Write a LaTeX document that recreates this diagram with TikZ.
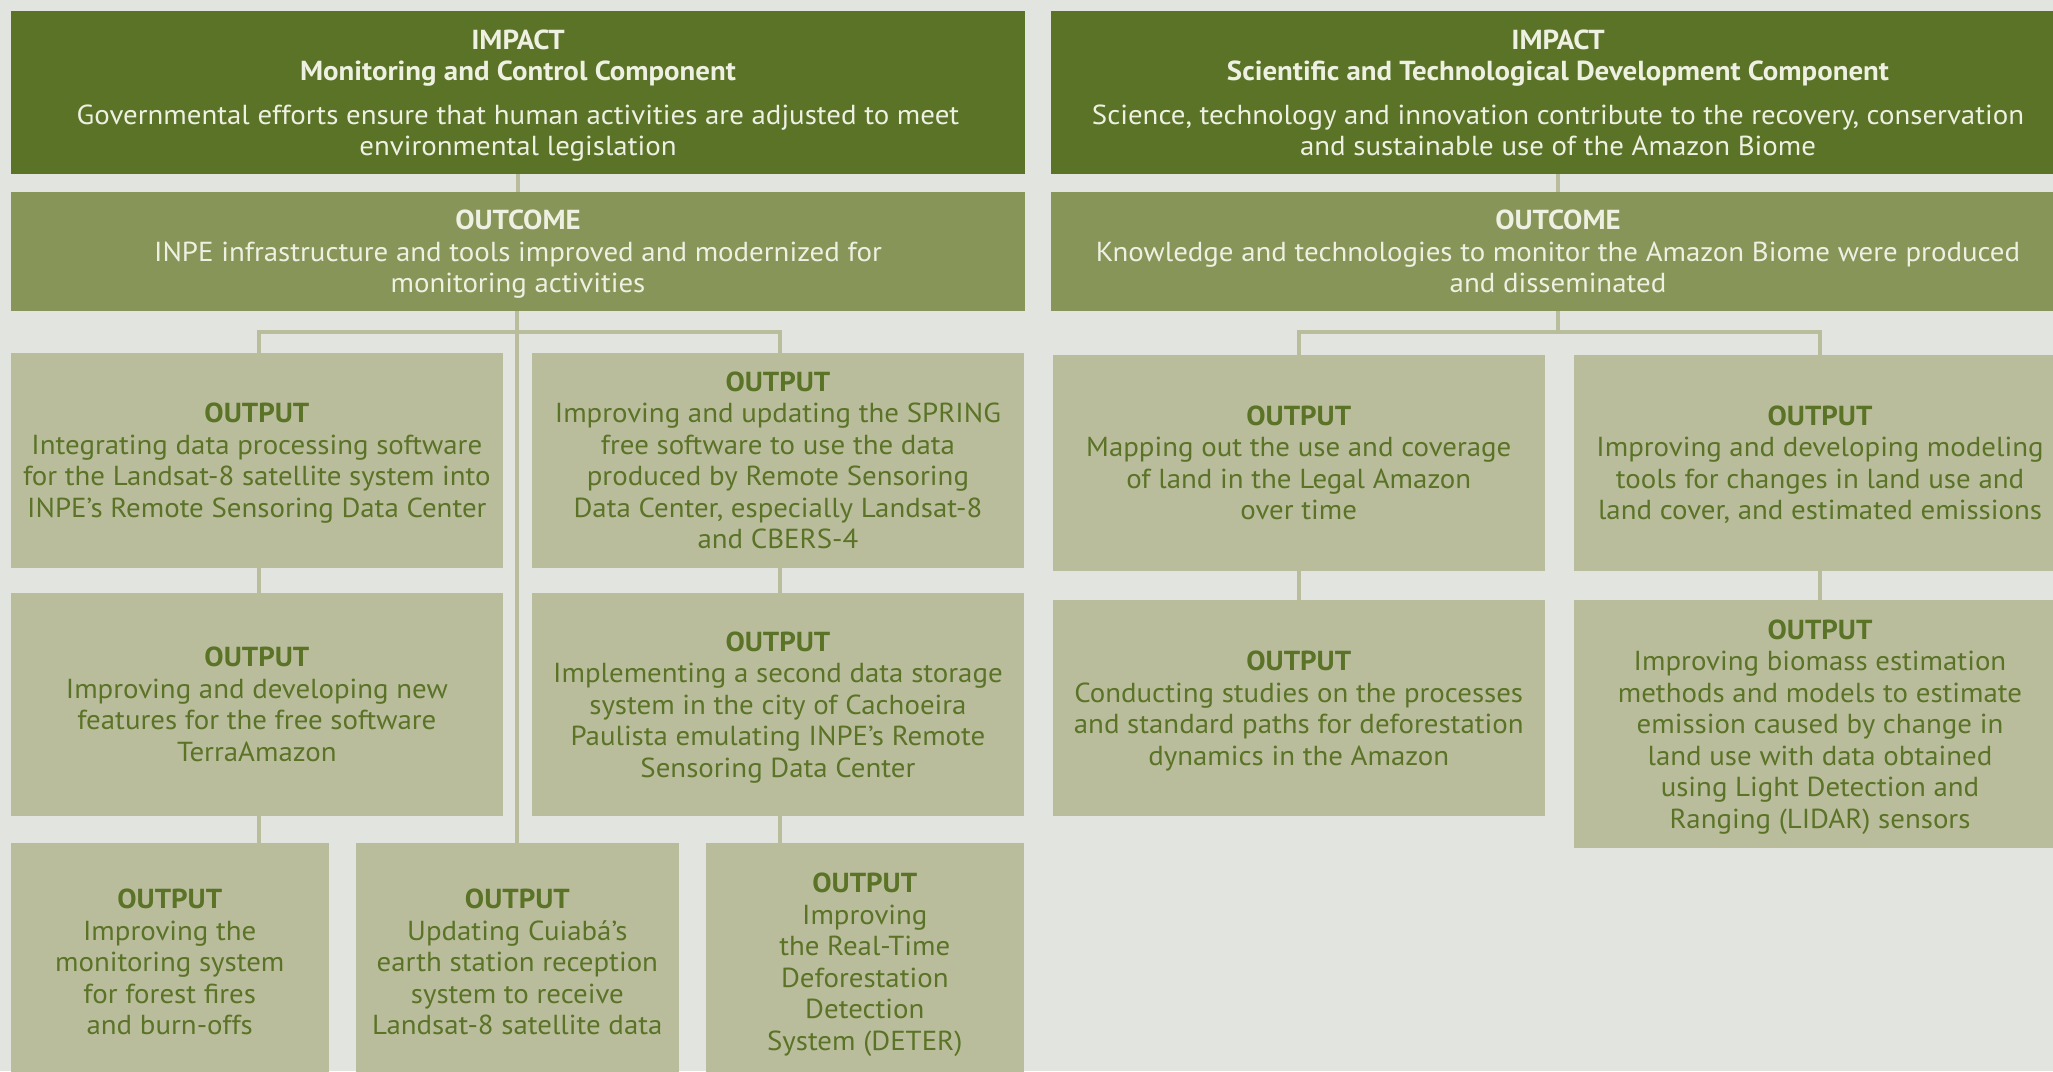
\documentclass[tikz,border=0pt]{standalone}
\usepackage{fontspec}
\setmainfont[FakeStretch=1.05]{PT Sans}
\definecolor{bgc}{HTML}{E2E4DF}
\definecolor{impc}{HTML}{5A7327}
\definecolor{outc}{HTML}{879558}
\definecolor{opc}{HTML}{BABD9C}
\definecolor{linec}{HTML}{BABD9C}
\definecolor{lighttxt}{HTML}{EEF0E2}
\definecolor{darktxt}{HTML}{5A7326}
\tikzset{
  box/.style={inner sep=0pt, outer sep=0pt, align=center, draw=none, text depth=0pt,
    font=\fontsize{27.5pt}{31.5pt}\selectfont},
  impactbox/.style={box, fill=impc, text=lighttxt, minimum width=1014pt, minimum height=163pt},
  outcomebox/.style={box, fill=outc, text=lighttxt, minimum width=1014pt, minimum height=119pt},
  outputbox/.style={box, fill=opc, text=darktxt},
  conn/.style={draw=linec, line width=4.3pt, line join=miter, line cap=butt}
}
\begin{document}
\begin{tikzpicture}[x=1pt,y=-1pt]
\useasboundingbox (0,0) rectangle (2053,1071);
\clip (0,0) rectangle (2053,1071);
\fill[bgc] (0,0) rectangle (2053,1071);

% ---------- left column ----------
\node[impactbox] (imp1) at (518,92.5) {\textbf{IMPACT}\\\textbf{Monitoring and Control Component}\\[12pt]Governmental efforts ensure that human activities are adjusted to meet\\environmental legislation};
\node[outcomebox] (out1) at (518,251.5) {\textbf{OUTCOME}\\INPE infrastructure and tools improved and modernized for\\monitoring activities};

\node[outputbox, minimum width=491.7pt, minimum height=215.3pt] (L1a) at (256.85,460.35) {\textbf{OUTPUT}\\Integrating data processing software\\for the Landsat-8 satellite system into\\INPE’s Remote Sensoring Data Center};
\node[outputbox, minimum width=491.3pt, minimum height=215.3pt] (L1b) at (777.95,460.35) {\textbf{OUTPUT}\\Improving and updating the SPRING\\free software to use the data\\produced by Remote Sensoring\\Data Center, especially Landsat-8\\and CBERS-4};

\node[outputbox, minimum width=491.7pt, minimum height=222.7pt] (L2a) at (256.85,704.35) {\textbf{OUTPUT}\\Improving and developing new\\features for the free software\\TerraAmazon};
\node[outputbox, minimum width=491.3pt, minimum height=222.7pt] (L2b) at (777.95,704.35) {\textbf{OUTPUT}\\Implementing a second data storage\\system in the city of Cachoeira\\Paulista emulating INPE’s Remote\\Sensoring Data Center};

\node[outputbox, minimum width=317.5pt, minimum height=238pt] (L3a) at (169.75,961.7) {\textbf{OUTPUT}\\Improving the\\monitoring system\\for forest fires\\and burn-offs};
\node[outputbox, minimum width=322.7pt, minimum height=238pt] (L3b) at (517.35,961.7) {\textbf{OUTPUT}\\Updating Cuiabá’s\\earth station reception\\system to receive\\Landsat-8 satellite data};
\node[outputbox, minimum width=317.6pt, minimum height=238pt] (L3c) at (864.8,961.7) {\textbf{OUTPUT}\\Improving\\the Real-Time\\Deforestation\\Detection\\System (DETER)};

% ---------- right column ----------
\node[impactbox] (imp2) at (1558,92.5) {\textbf{IMPACT}\\\textbf{Scientific and Technological Development Component}\\[12pt]Science, technology and innovation contribute to the recovery, conservation\\and sustainable use of the Amazon Biome};
\node[outcomebox] (out2) at (1558,251.5) {\textbf{OUTCOME}\\Knowledge and technologies to monitor the Amazon Biome were produced\\and disseminated};

\node[outputbox, minimum width=491.9pt, minimum height=215.7pt] (R1a) at (1298.75,462.85) {\textbf{OUTPUT}\\Mapping out the use and coverage\\of land in the Legal Amazon\\over time};
\node[outputbox, minimum width=492pt, minimum height=215.7pt] (R1b) at (1820,462.85) {\textbf{OUTPUT}\\Improving and developing modeling\\tools for changes in land use and\\land cover, and estimated emissions};
\node[outputbox, minimum width=491.9pt, minimum height=216pt] (R2a) at (1298.75,708) {\textbf{OUTPUT}\\Conducting studies on the processes\\and standard paths for deforestation\\dynamics in the Amazon};
\node[outputbox, minimum width=492pt, minimum height=247.5pt] (R2b) at (1820,723.75) {\textbf{OUTPUT}\\Improving biomass estimation\\methods and models to estimate\\emission caused by change in\\land use with data obtained\\using Light Detection and\\Ranging (LIDAR) sensors};

% ---------- connectors ----------
\coordinate (barL) at (517.3,332.3);
\coordinate (barR) at (1558,332.3);
\draw[conn] (imp1.south) -- (out1.north);
\draw[conn] ([xshift=-0.7pt]out1.south) -- ([xshift=-0.7pt]out1.south |- L3b.north);
\draw[conn] ([xshift=2.2pt]L1a.north) |- (barL) -| ([xshift=2pt]L1b.north);
\draw[conn] ([xshift=2.2pt]L1a.south) -- ([xshift=2.2pt]L2a.north);
\draw[conn] ([xshift=2pt]L1b.south) -- ([xshift=2pt]L2b.north);
\draw[conn] ([xshift=2.2pt]L2a.south) -- ([xshift=2.2pt]L2a.south |- L3a.north);
\draw[conn] ([xshift=2pt]L2b.south) -- ([xshift=2pt]L2b.south |- L3c.north);

\draw[conn] (imp2.south) -- (out2.north);
\draw[conn] (out2.south) -- (barR);
\draw[conn] (R1a.north) |- (barR) -| (R1b.north);
\draw[conn] (R1a.south) -- (R2a.north);
\draw[conn] (R1b.south) -- (R2b.north);
\end{tikzpicture}
\end{document}
